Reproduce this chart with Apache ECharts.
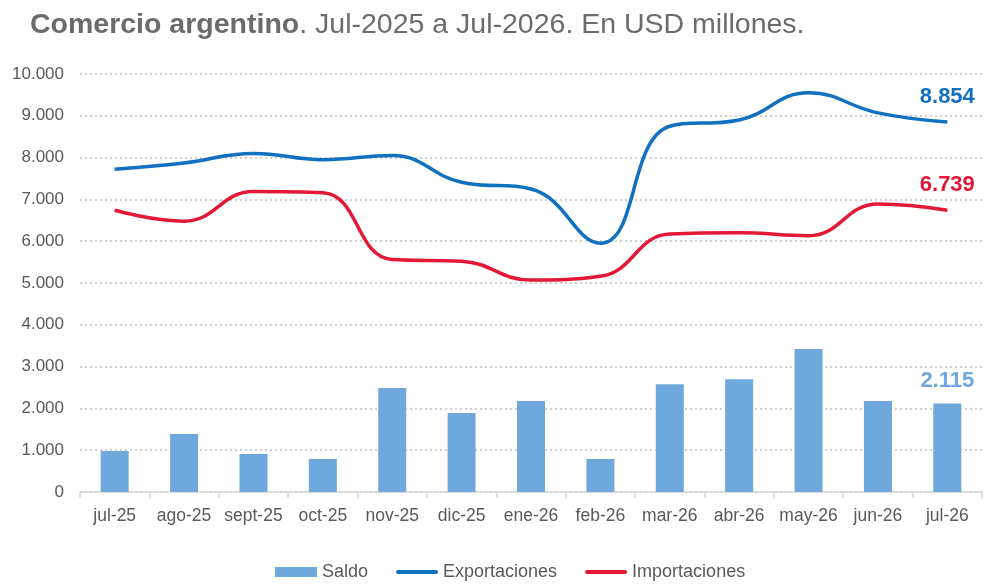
<!DOCTYPE html>
<html>
<head>
<meta charset="utf-8">
<script src="https://cdn.jsdelivr.net/npm/echarts@6/dist/echarts.min.js"></script>
<style>
  html, body { margin: 0; padding: 0; background: #fff; }
  #chart { width: 1000px; height: 588px; }
</style>
</head>
<body>
<div id="chart"></div>
<script>
const months = ['jul-25', 'ago-25', 'sept-25', 'oct-25', 'nov-25', 'dic-25', 'ene-26',
    'feb-26', 'mar-26', 'abr-26', 'may-26', 'jun-26', 'jul-26']
const saldo = [980, 1390, 910, 790, 2490, 1890, 2180, 790, 2580, 2700, 3420, 2180, 2115]
const exportaciones = [7720, 7870, 8100, 7950, 8050, 7410, 7250, 5950, 8750, 8900, 9550, 9070, 8854]
const importaciones = [6740, 6480, 7190, 7160, 5560, 5520, 5070, 5160, 6170, 6200, 6130, 6890, 6739]

const FONT = 'Liberation Sans, Arial, sans-serif'
const fmt = v => String(Math.round(v)).replace(/\B(?=(\d{3})+(?!\d))/g, '.')
const lineIcon = 'path://M2,0 H40 A2,2 0 0 1 40,4 H2 A2,2 0 0 1 2,0 Z'

// etiqueta solo en el último punto
function lastLabel(data, color, dist) {
    return data.map((v, i) => i === data.length - 1 ? {
        value: v,
        label: {
            show: true,
            position: 'top',
            distance: dist,
            formatter: p => fmt(p.value),
            color: color,
            fontFamily: FONT,
            fontSize: 22,
            fontWeight: 'bold'
        }
    } : v)
}

const chart = echarts.init(document.getElementById('chart'))
chart.setOption({
    animation: false,
    title: {
        left: 25,
        top: 6,
        text: '{b|Comercio argentino}{n|. Jul-2025 a Jul-2026. En USD millones.}',
        textStyle: {
            fontWeight: 'normal',
            rich: {
                b: { fontFamily: FONT, fontSize: 28.5, fontWeight: 'bold', color: '#6b6b6b' },
                n: { fontFamily: FONT, fontSize: 28.5, fontWeight: 'normal', color: '#6b6b6b' }
            }
        }
    },
    grid: {
        left: 80,
        right: 18,
        top: 74,
        bottom: 96
    },
    legend: {
        bottom: 2,
        left: 270,
        itemGap: 28,
        itemWidth: 42,
        itemHeight: 10,
        textStyle: { fontFamily: FONT, fontSize: 18, color: '#595959' },
        data: [
            { name: 'Saldo', icon: 'rect' },
            { name: 'Exportaciones', icon: lineIcon },
            { name: 'Importaciones', icon: lineIcon }
        ]
    },
    xAxis: {
        type: 'category',
        data: months,
        axisLine: { lineStyle: { color: '#d9d9d9', width: 1.5 } },
        axisTick: { show: true, interval: 0, length: 6, lineStyle: { color: '#d9d9d9', width: 1.5 } },
        axisLabel: { interval: 0, fontFamily: FONT, fontSize: 17.5, color: '#595959', margin: 15 }
    },
    yAxis: {
        type: 'value',
        min: 0,
        max: 10000,
        interval: 1000,
        axisLine: { show: false },
        axisTick: { show: false },
        axisLabel: {
            fontFamily: FONT,
            fontSize: 17,
            color: '#595959',
            margin: 16,
            formatter: v => fmt(v)
        },
        splitLine: {
            lineStyle: { color: '#cfcfcf', type: [2, 3], width: 2 }
        }
    },
    series: [
        {
            name: 'Saldo',
            type: 'bar',
            barWidth: 28,
            itemStyle: { color: '#6fa8dc' },
            data: lastLabel(saldo, '#6fa8dc', 12)
        },
        {
            name: 'Exportaciones',
            type: 'line',
            smooth: 0.45,
            symbol: 'circle',
            symbolSize: 0.01,
            showSymbol: true,
            lineStyle: { width: 3.5, color: '#1170c0' },
            itemStyle: { color: '#1170c0' },
            data: lastLabel(exportaciones, '#1170c0', 14)
        },
        {
            name: 'Importaciones',
            type: 'line',
            smooth: 0.45,
            symbol: 'circle',
            symbolSize: 0.01,
            showSymbol: true,
            lineStyle: { width: 3.5, color: '#e31837' },
            itemStyle: { color: '#e31837' },
            data: lastLabel(importaciones, '#e31837', 14)
        }
    ]
})
</script>
</body>
</html>
